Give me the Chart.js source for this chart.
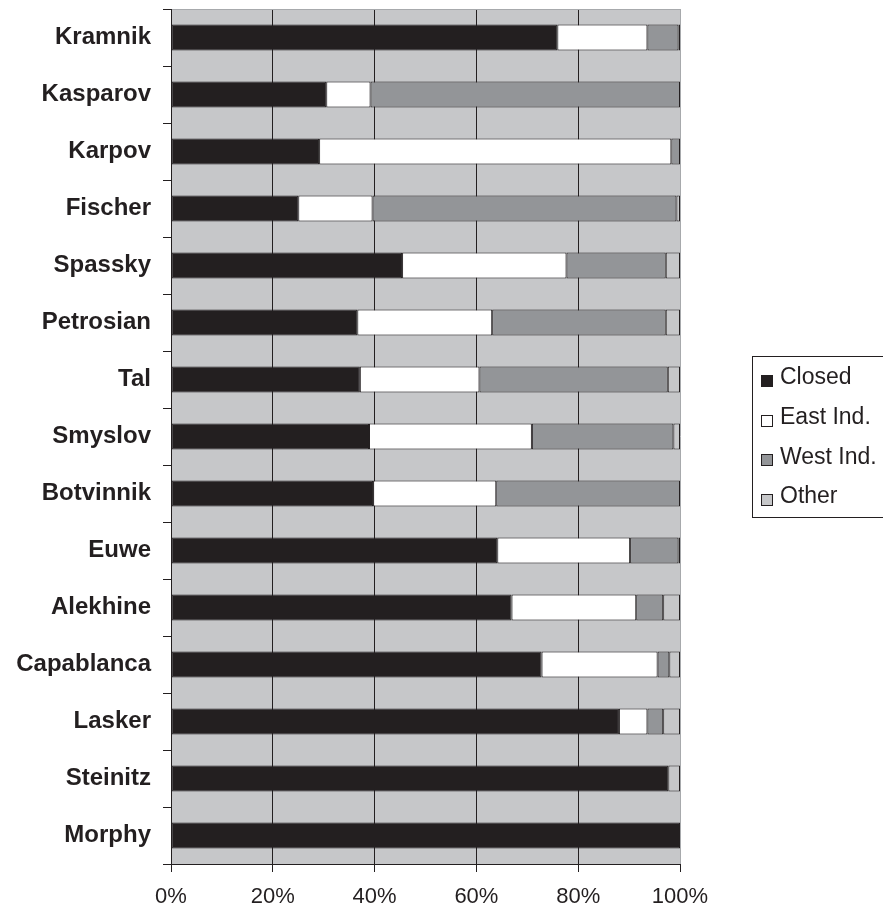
<!DOCTYPE html>
<html>
<head>
<meta charset="utf-8">
<title>Opening families by world champion</title>
<script src="https://cdn.jsdelivr.net/npm/chart.js@4/dist/chart.umd.min.js"></script>
<style>
  html, body { margin: 0; padding: 0; background: #ffffff; }
  #wrap { width: 883px; height: 910px; }
</style>
</head>
<body>
<div id="wrap"><canvas id="c" width="883" height="910"></canvas></div>
<script>
// World champions, newest at the top
const players = ['Kramnik', 'Kasparov', 'Karpov', 'Fischer', 'Spassky', 'Petrosian', 'Tal',
  'Smyslov', 'Botvinnik', 'Euwe', 'Alekhine', 'Capablanca', 'Lasker', 'Steinitz', 'Morphy'];

// Share of games (%) in each opening family
const closed  = [75.9, 30.5, 29.1, 25.0, 45.4, 36.6, 37.1, 38.9, 39.7, 64.1, 66.9, 72.8, 88.0, 97.7, 100];
const eastInd = [17.7, 8.7, 69.2, 14.6, 32.3, 26.5, 23.5, 32.0, 24.2, 26.1, 24.5, 22.8, 5.6, null, null];
const westInd = [6.1, 60.8, 1.7, 59.7, 19.5, 34.1, 37.0, 27.8, 36.1, 9.5, 5.3, 2.3, 3.1, null, null];
const other   = [0.3, null, null, 0.7, 2.8, 2.8, 2.4, 1.3, null, 0.3, 3.3, 2.1, 3.3, 2.3, null];

const seriesNames = ['Closed', 'East Ind.', 'West Ind.', 'Other'];
const xTickLabels = ['0%', '20%', '40%', '60%', '80%', '100%'];

const INK = '#231f20';
const colors = ['#231f20', '#ffffff', '#939598', '#c6c7c9'];
const PLOT_BG = '#c6c7c9';

const seriesData = [closed, eastInd, westInd, other];

const datasets = seriesNames.map((name, i) => ({
  label: name,
  data: seriesData[i],
  backgroundColor: colors[i],
  borderColor: INK,
  borderWidth: 1,
  borderSkipped: false,
  categoryPercentage: 1,
  barPercentage: 0.455
}));

// Plot background and top edge
const plotFrame = {
  id: 'plotFrame',
  beforeDraw(chart) {
    const { ctx, chartArea: a } = chart;
    ctx.save();
    ctx.fillStyle = PLOT_BG;
    ctx.fillRect(a.left, a.top, a.right - a.left, a.bottom - a.top);
    ctx.restore();
  },
  afterDraw(chart) {
    const { ctx, chartArea: a } = chart;
    ctx.save();
    ctx.strokeStyle = '#a7a9ac';
    ctx.lineWidth = 1;
    ctx.beginPath();
    ctx.moveTo(a.left + 1, Math.round(a.top) + 0.5);
    ctx.lineTo(a.right, Math.round(a.top) + 0.5);
    ctx.stroke();
    ctx.restore();
  }
};

// Boxed legend to the right of the plot
const boxLegend = {
  id: 'boxLegend',
  afterDraw(chart) {
    const { ctx, chartArea: a } = chart;
    const mid = (a.top + a.bottom) / 2;
    const rowGap = 39.7;
    const boxTop = mid - 80.5, boxBottom = mid + 80.5;
    const left = 752.5;
    ctx.save();
    ctx.strokeStyle = INK;
    ctx.lineWidth = 1;
    ctx.strokeRect(left, Math.round(boxTop) + 0.5, 200, Math.round(boxBottom - boxTop));
    ctx.font = '23px "Liberation Sans", Arial, sans-serif';
    ctx.textBaseline = 'middle';
    ctx.textAlign = 'left';
    chart.data.datasets.forEach((ds, i) => {
      const cy = mid - rowGap * 1.5 + rowGap * i;
      const mx = 761, my = Math.round(cy - 2);
      ctx.fillStyle = ds.backgroundColor;
      ctx.fillRect(mx, my, 12, 12);
      ctx.strokeStyle = INK;
      ctx.strokeRect(mx + 0.5, my + 0.5, 11, 11);
      ctx.fillStyle = INK;
      ctx.fillText(ds.label, 780, cy + 1);
    });
    ctx.restore();
  }
};

new Chart(document.getElementById('c'), {
  type: 'bar',
  data: { labels: players, datasets },
  options: {
    indexAxis: 'y',
    responsive: false,
    animation: false,
    layout: { padding: { top: 9, right: 203, bottom: 0, left: 0 } },
    plugins: {
      legend: { display: false },
      tooltip: { enabled: false }
    },
    scales: {
      x: {
        stacked: true,
        min: 0,
        max: 100,
        afterFit(scale) { scale.height = 46; },
        ticks: {
          stepSize: 20,
          padding: 12,
          color: INK,
          font: { family: '"Liberation Sans", Arial, sans-serif', size: 22 },
          callback: (v) => xTickLabels[Math.round(v / 20)]
        },
        grid: {
          color: (c) => (c.tick && c.tick.value === 100 ? '#a7a9ac' : INK),
          tickColor: INK,
          tickLength: 8,
          lineWidth: 1
        },
        border: { display: true, color: INK, width: 1 }
      },
      y: {
        stacked: true,
        afterFit(scale) {
          scale.width = 171;
          scale.paddingTop = 0;
          scale.paddingBottom = 0;
        },
        ticks: {
          padding: 12,
          color: INK,
          font: { family: '"Liberation Sans", Arial, sans-serif', size: 24, weight: 'bold' }
        },
        grid: {
          drawOnChartArea: false,
          drawTicks: true,
          tickLength: 8,
          tickColor: INK,
          offset: true
        },
        border: { display: true, color: INK, width: 1 }
      }
    }
  },
  plugins: [plotFrame, boxLegend]
});
</script>
</body>
</html>
